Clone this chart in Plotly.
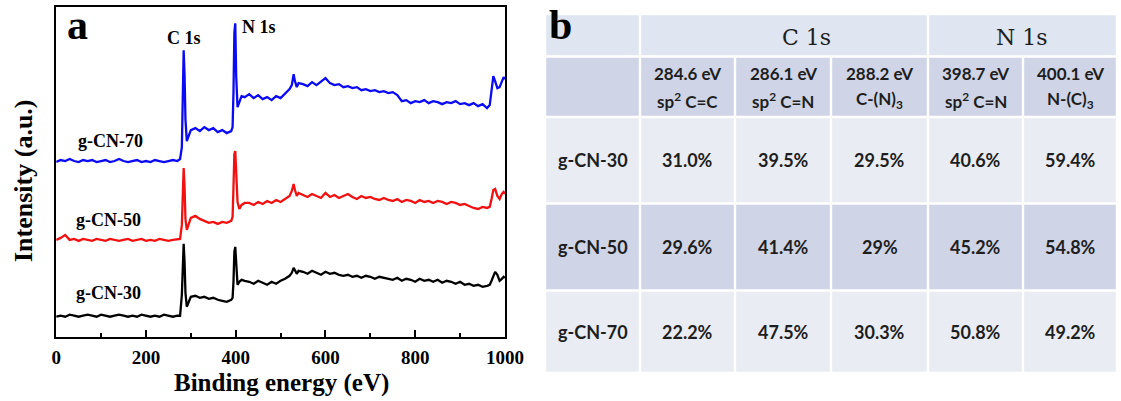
import plotly.graph_objects as go

# ---------------- data: XPS survey spectra (panel a) ----------------
binding_energy = [
    0, 10, 20, 30, 40, 50, 60, 70, 80, 90, 100, 110, 120, 130, 140, 150, 160, 170, 180, 190,
    200, 210, 220, 230, 240, 250, 260, 270,
    276, 280, 282, 284, 286, 288, 291, 295, 300,
    310, 320, 330, 340, 350, 360, 370, 380, 390,
    393, 395, 397, 399, 401, 404, 408, 413, 420,
    430, 440, 450, 460, 470, 480, 490, 500, 510, 520,
    525, 529, 532, 536, 540,
    550, 560, 570, 580, 590, 600, 610, 620, 630, 640,
    650, 660, 670, 680, 690, 700, 710, 720, 730, 740,
    750, 760, 770, 780, 790, 800, 810, 820, 830, 840,
    850, 860, 870, 880, 890, 900, 910, 920, 930, 940,
    950, 960,
    966, 970, 974, 978, 983, 988, 993, 997, 1000,
]

intensity_gcn70 = [
    175, 177, 176, 178, 176, 175, 177, 176, 177, 175, 176, 177, 175, 176, 178, 176, 175, 176, 177, 175,
    176, 175, 177, 176, 175, 176, 177, 176,
    178, 190, 252, 287, 262, 218, 196, 201, 207,
    209, 206, 210, 207, 209, 205, 207, 204, 206,
    210, 245, 305, 314, 262, 230, 236, 241, 240,
    243, 239, 242, 238, 240, 237, 241, 239, 243, 248,
    252, 263, 256, 250, 254,
    253, 251, 255, 252, 256, 259, 254, 252, 253, 250,
    251, 249, 250, 247, 248, 246, 247, 245, 246, 244,
    245, 242, 236, 237, 234, 236, 235, 237, 234, 236,
    235, 233, 235, 234, 236, 233, 234, 232, 234, 231,
    233, 229,
    232, 250, 261, 256, 249, 250, 256, 260, 258,
]

intensity_gcn50 = [
    97, 99, 102, 97, 98, 96, 98, 97, 96, 98, 97, 96, 98, 97, 96, 97, 98, 96, 97, 98,
    96, 97, 96, 98, 97, 96, 97, 98,
    98, 112, 150, 169, 150, 118, 107, 112, 119,
    121, 118, 116, 114, 115, 113, 115, 114, 116,
    120, 150, 183, 186, 160, 135, 128, 132, 134,
    134, 132, 135, 133, 136, 134, 137, 135, 138, 141,
    146, 153, 147, 141, 144,
    142, 140, 143, 141, 139, 144, 140, 142, 139, 141,
    143, 140, 138, 141, 139, 140, 138, 137, 139, 137,
    136, 138, 135, 137, 136, 134, 137, 135, 136, 134,
    136, 135, 133, 135, 134, 132, 133, 131, 129, 128,
    130, 129,
    130, 138, 147, 148, 141, 138, 143, 145, 143,
]

intensity_gcn30 = [
    20, 21, 20, 22, 21, 20, 21, 22, 21, 20, 22, 21, 20, 21, 22, 21, 20, 21, 20, 22,
    21, 20, 21, 20, 22, 21, 20, 21,
    21, 42, 75, 93, 75, 44, 30, 35, 40,
    41, 39, 40, 38, 39, 37, 36, 35, 37,
    39, 55, 85, 90, 70, 52, 55, 57, 56,
    55, 53, 56, 54, 52, 55, 53, 56, 58, 61,
    64, 69, 66, 63, 66,
    65, 63, 66, 64, 62, 65, 63, 64, 62, 61,
    62, 60, 61, 59, 61, 60, 58, 60, 59, 58,
    57, 59, 56, 58, 57, 55, 58, 56, 57, 55,
    57, 54, 56, 55, 53, 55, 52, 53, 51, 52,
    50, 51,
    52, 56, 61, 65, 62, 56, 58, 60, 59,
]

series_names = ["g-CN-70", "g-CN-50", "g-CN-30"]
series_colors = ["#0a0af5", "#f21010", "#000000"]
x_ticks = [0, 200, 400, 600, 800, 1000]

# ---------------- data: peak fractions table (panel b) ----------------
group_labels = ["C\u00a01s", "N\u00a01s"]
peak_energies = ["284.6 eV", "286.1 eV", "288.2 eV", "398.7 eV", "400.1 eV"]
bond_types = ["sp<sup>2</sup> C=C", "sp<sup>2</sup> C=N", "C-(N)<sub>3</sub>",
              "sp<sup>2</sup> C=N", "N-(C)<sub>3</sub>"]
table_samples = ["g-CN-30", "g-CN-50", "g-CN-70"]
fractions_gcn30 = ["31.0%", "39.5%", "29.5%", "40.6%", "59.4%"]
fractions_gcn50 = ["29.6%", "41.4%", "29%", "45.2%", "54.8%"]
fractions_gcn70 = ["22.2%", "47.5%", "30.3%", "50.8%", "49.2%"]
table_rows = [fractions_gcn30, fractions_gcn50, fractions_gcn70]

# ---------------- figure ----------------
W, H = 1121, 401
SERIF = "Liberation Serif"
SANS = "Lato"

def px(xpix):
    return xpix / W

def py(ypix):
    return 1 - ypix / H

fig = go.Figure()
for name, ys, col in zip(series_names,
                         [intensity_gcn70, intensity_gcn50, intensity_gcn30],
                         series_colors):
    fig.add_trace(go.Scatter(x=binding_energy, y=ys, mode="lines", name=name,
                             line=dict(color=col, width=2.3), hoverinfo="skip"))

fig.update_layout(
    width=W, height=H, margin=dict(l=0, r=0, t=0, b=0, autoexpand=False),
    paper_bgcolor="white", plot_bgcolor="white", showlegend=False,
    xaxis=dict(domain=[px(56.2), px(505)], range=[0, 1000], automargin=False,
               showline=True, linecolor="black", linewidth=2, mirror=True,
               showgrid=False, zeroline=False,
               ticks="inside", ticklen=7, tickwidth=2, tickcolor="black",
               tickvals=x_ticks, ticklabelstandoff=2,
               minor=dict(ticks="inside", dtick=100, tick0=0, ticklen=4,
                          tickwidth=2, tickcolor="black", showgrid=False),
               tickfont=dict(family=SERIF, size=19, color="black", weight="bold")),
    yaxis=dict(domain=[py(336.7), py(7.3)], range=[0, 330], automargin=False,
               showline=True, linecolor="black", linewidth=2, mirror=True,
               showgrid=False, zeroline=False, showticklabels=False, ticks=""),
)

ann = []

def note(x, y, text, font, xref="paper", yref="paper", **kw):
    d = dict(xref=xref, yref=yref, x=x, y=y, text=text, showarrow=False,
             xanchor="center", yanchor="middle", font=font)
    d.update(kw)
    ann.append(d)

# axis titles
note(px(281), py(383), "Binding energy (eV)", dict(family=SERIF, size=25, color="black", weight="bold"))
note(px(23), py(181), "Intensity (a.u.)", dict(family=SERIF, size=26, color="black", weight="bold"),
     textangle=-90)
# panel a labels
lab_font = dict(family=SERIF, size=18, color="black", weight="bold")
for txt, xv, yv in zip(series_names, [120, 116, 116], [196, 117, 44]):
    note(xv, yv, txt, lab_font, xref="x", yref="y")
note(285, 299, "C 1s", lab_font, xref="x", yref="y")
note(452, 310, "N 1s", lab_font, xref="x", yref="y")
note(px(77), 1, "a", dict(family=SERIF, size=42, color="black", weight="bold"), yanchor="top")

# ---------------- table (panel b) ----------------
col_edges = [545, 640, 735, 831, 928, 1023, 1117]
row_edges = [14, 56.5, 117, 203.5, 290.5, 373]
row_fills = ["#dfe6f1", "#cfd5e6", "#e9ecf3", "#cfd5e6", "#e9ecf3"]
g = 1.2
shapes = []

def cell(x0, x1, y0, y1, color):
    shapes.append(dict(type="rect", xref="paper", yref="paper",
                       x0=px(x0 + g), x1=px(x1 - g), y0=py(y1 - g), y1=py(y0 + g),
                       fillcolor=color, line=dict(width=0), layer="below"))

cell(col_edges[0], col_edges[1], row_edges[0], row_edges[1], row_fills[0])
cell(col_edges[1], col_edges[4], row_edges[0], row_edges[1], row_fills[0])
cell(col_edges[4], col_edges[6], row_edges[0], row_edges[1], row_fills[0])
for r in range(1, 5):
    for c in range(6):
        cell(col_edges[c], col_edges[c + 1], row_edges[r], row_edges[r + 1], row_fills[r])

TXT = "#1e1e1e"
note(px(560), 1, "b", dict(family=SERIF, size=42, color="black", weight="bold"), yanchor="top")
grp_font = dict(family="DejaVu Serif", size=22, color=TXT)
note(px(806), py(37), group_labels[0], grp_font)
note(px(1022), py(37), group_labels[1], grp_font)

hdr_font = dict(family=SANS, size=17, color=TXT, weight="bold")
for i in range(5):
    xc = (col_edges[i + 1] + col_edges[i + 2]) / 2
    note(px(xc), py(73), peak_energies[i], hdr_font)
    note(px(xc), py(100), bond_types[i], hdr_font)

data_font = dict(family=SANS, size=18, color=TXT, weight="bold")
for r, (sname, vals) in enumerate(zip(table_samples, table_rows)):
    yc = (row_edges[r + 2] + row_edges[r + 3]) / 2
    note(px((col_edges[0] + col_edges[1]) / 2), py(yc), sname, data_font)
    for c, v in enumerate(vals):
        xc = (col_edges[c + 1] + col_edges[c + 2]) / 2
        note(px(xc), py(yc), v, data_font)

fig.update_layout(annotations=ann, shapes=shapes)
fig.write_html("out.html",
               post_script="document.body.style.margin='0';document.body.style.overflow='hidden';")
